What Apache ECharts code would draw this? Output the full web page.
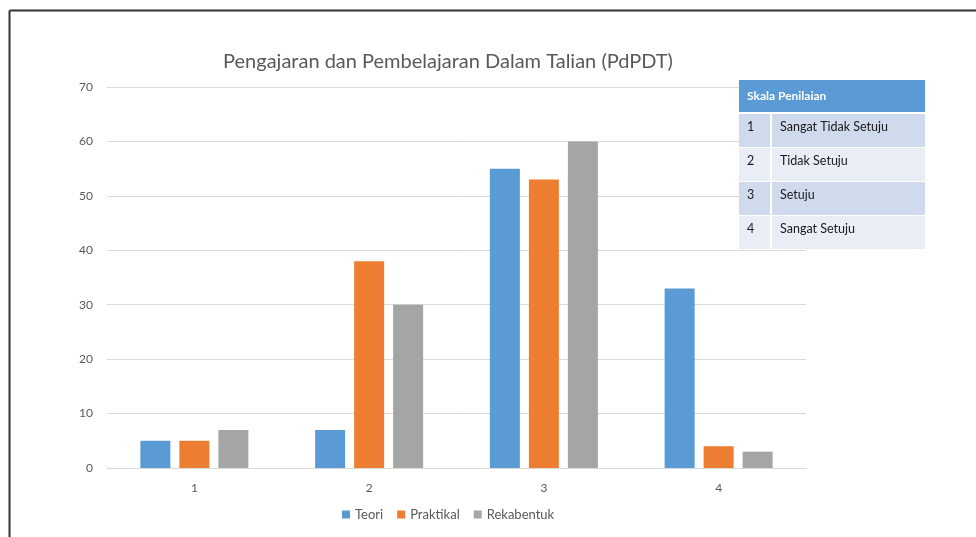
<!DOCTYPE html>
<html>
<head>
<meta charset="utf-8">
<script src="https://cdn.jsdelivr.net/npm/echarts@6/dist/echarts.min.js"></script>
<style>
  html, body { margin: 0; padding: 0; background: #fff; }
  #main { width: 976px; height: 537px; }
</style>
</head>
<body>
<div id="main"></div>
<script>
// data
const categories = ['1', '2', '3', '4'];
const teori = [5, 7, 55, 33];
const praktikal = [5, 38, 53, 4];
const rekabentuk = [7, 30, 60, 3];

const skalaTitle = 'Skala Penilaian';
const skalaNo = ['1', '2', '3', '4'];
const skalaText = ['Sangat Tidak Setuju', 'Tidak Setuju', 'Setuju', 'Sangat Setuju'];

const font = 'Lato, "Open Sans", sans-serif';
var chart = echarts.init(document.getElementById('main'));

// legend table on the right, drawn over the split lines
let table = [];
table.push({
    type: 'rect', z: 100, shape: { x: 739, y: 80, width: 186, height: 32 },
    style: { fill: '#5b9bd5' }
});
table.push({
    type: 'text', z: 101, x: 747, y: 96,
    style: { text: skalaTitle, fill: '#fff', font: 'bold 12px ' + font, verticalAlign: 'middle' }
});
// white gap behind the rows
table.push({
    type: 'rect', z: 99, shape: { x: 739, y: 112, width: 186, height: 138 },
    style: { fill: '#fff' }
});
let rowTop = [114, 148, 182, 216];
for (let i = 0; i < skalaNo.length; i++) {
    let fill = i % 2 == 0 ? '#cfdaed' : '#e9edf6';
    table.push({
        type: 'rect', z: 100, shape: { x: 739, y: rowTop[i], width: 31, height: 33 },
        style: { fill: fill }
    });
    table.push({
        type: 'rect', z: 100, shape: { x: 772, y: rowTop[i], width: 153, height: 33 },
        style: { fill: fill }
    });
    table.push({
        type: 'text', z: 101, x: 747, y: rowTop[i] + 13,
        style: { text: skalaNo[i], fill: '#1a1a1a', font: '12.5px ' + font, verticalAlign: 'middle' }
    });
    table.push({
        type: 'text', z: 101, x: 780, y: rowTop[i] + 13,
        style: { text: skalaText[i], fill: '#1a1a1a', font: '12.5px ' + font, verticalAlign: 'middle' }
    });
}

var option = {
    animation: false,
    title: {
        text: 'Pengajaran dan Pembelajaran Dalam Talian (PdPDT)',
        left: 443, top: 47, textAlign: 'center',
        textStyle: { fontFamily: font, fontSize: 20, fontWeight: 'normal', color: '#595959' }
    },
    legend: {
        bottom: 11, left: 337,
        itemWidth: 8, itemHeight: 8, itemGap: 14,
        icon: 'rect',
        textStyle: { fontFamily: font, fontSize: 13, color: '#595959' },
        data: ['Teori', 'Praktikal', 'Rekabentuk']
    },
    grid: { left: 107, right: 170, top: 87, bottom: 69 },
    xAxis: {
        type: 'category',
        data: categories,
        axisTick: { show: false },
        axisLine: { lineStyle: { color: '#d9d9d9', width: 1 } },
        axisLabel: { fontFamily: font, fontSize: 12, color: '#595959', margin: 14 }
    },
    yAxis: {
        type: 'value',
        min: 0, max: 70, interval: 10,
        axisLine: { show: false },
        axisTick: { show: false },
        splitLine: { lineStyle: { color: '#d9d9d9', width: 1 } },
        axisLabel: { fontFamily: font, fontSize: 12, color: '#595959', margin: 14 }
    },
    series: [
        { name: 'Teori', type: 'bar', data: teori, barWidth: 30, barGap: '30%', itemStyle: { color: '#5b9bd5' } },
        { name: 'Praktikal', type: 'bar', data: praktikal, barWidth: 30, barGap: '30%', itemStyle: { color: '#ed7d31' } },
        { name: 'Rekabentuk', type: 'bar', data: rekabentuk, barWidth: 30, barGap: '30%', itemStyle: { color: '#a5a5a5' } }
    ],
    graphic: [
        { type: 'line', z: 100, shape: { x1: 9.5, y1: 10.5, x2: 976, y2: 10.5 }, style: { stroke: '#333', lineWidth: 2 } },
        { type: 'line', z: 100, shape: { x1: 9.5, y1: 10.5, x2: 9.5, y2: 537 }, style: { stroke: '#333', lineWidth: 2 } }
    ].concat(table)
};

chart.setOption(option);
</script>
</body>
</html>
